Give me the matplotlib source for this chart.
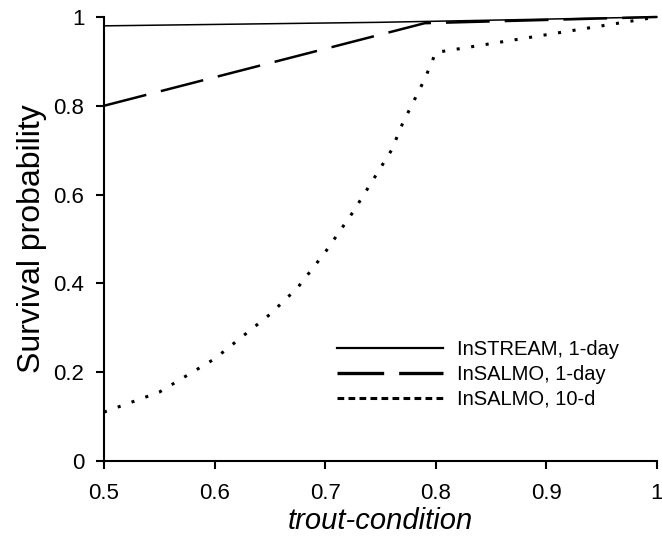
import matplotlib
matplotlib.use('Agg')
import matplotlib.pyplot as plt
from matplotlib.lines import Line2D

# values
condition = [0.5, 0.75, 1.0]
instream_1day = [0.98, 0.988, 1.0]

salmo_1day_x = [0.5, 0.79, 1.0]
salmo_1day_y = [0.80, 0.986, 1.0]

salmo_10d_x = [0.50, 0.55, 0.60, 0.625, 0.65, 0.675, 0.70, 0.725, 0.75,
               0.76, 0.77, 0.78, 0.79, 0.80, 0.90, 1.00]
salmo_10d_y = [0.11, 0.155, 0.23, 0.28, 0.33, 0.39, 0.47, 0.56, 0.66,
               0.70, 0.76, 0.81, 0.86, 0.92, 0.96, 1.00]

labels = ['InSTREAM, 1-day', 'InSALMO, 1-day', 'InSALMO, 10-d']
x_ticks = [0.5, 0.6, 0.7, 0.8, 0.9, 1.0]
x_tick_labels = ['0.5', '0.6', '0.7', '0.8', '0.9', '1']
y_ticks = [0, 0.2, 0.4, 0.6, 0.8, 1.0]
y_tick_labels = ['0', '0.2', '0.4', '0.6', '0.8', '1']


matplotlib.rcParams.update({'font.family': ['Liberation Sans', 'DejaVu Sans']})
matplotlib.rcParams.update({'font.size': 16})

fig = plt.figure(figsize=(6.62, 5.44), dpi=100)
ax = fig.add_axes([0.157, 0.1526, 0.8354, 0.8162])

ax.plot(condition, instream_1day, color='black', linewidth=1.1, clip_on=False)
ax.plot(salmo_1day_x, salmo_1day_y, color='black', linewidth=1.8,
        linestyle=(0, (17.5, 6)), clip_on=False)
ax.plot(salmo_10d_x, salmo_10d_y, color='black', linewidth=2.2,
        linestyle=(0, (1, 3.8)), clip_on=False)

ax.set_xlim(0.5, 1.0)
ax.set_ylim(0, 1.0)
ax.set_xticks(x_ticks)
ax.set_xticklabels(x_tick_labels)
ax.set_yticks(y_ticks)
ax.set_yticklabels(y_tick_labels)

ax.spines['top'].set_visible(False)
ax.spines['right'].set_visible(False)
ax.spines['left'].set_linewidth(1.5)
ax.spines['bottom'].set_linewidth(1.5)
ax.tick_params(direction='out', length=6, width=1.5, labelsize=16, pad=8)
ax.tick_params(axis='x', pad=10)

ax.set_xlabel('trout-condition', fontsize=21, style='italic', labelpad=2)
ax.set_ylabel('Survival probability', fontsize=23, labelpad=5)

handles = [
    Line2D([], [], color='black', linewidth=1.6),
    Line2D([], [], color='black', linewidth=2.4, linestyle=(0, (14, 4.5))),
    Line2D([], [], color='black', linewidth=2.2, linestyle=(0, (2.2, 1.4))),
]
ax.legend(handles, labels, loc='upper left', bbox_to_anchor=(0.421, 0.273),
          frameon=False, fontsize=14.5, handlelength=5.3, handletextpad=0.65,
          labelspacing=0.3, borderpad=0, borderaxespad=0)

fig.savefig('out.png', dpi=100)
